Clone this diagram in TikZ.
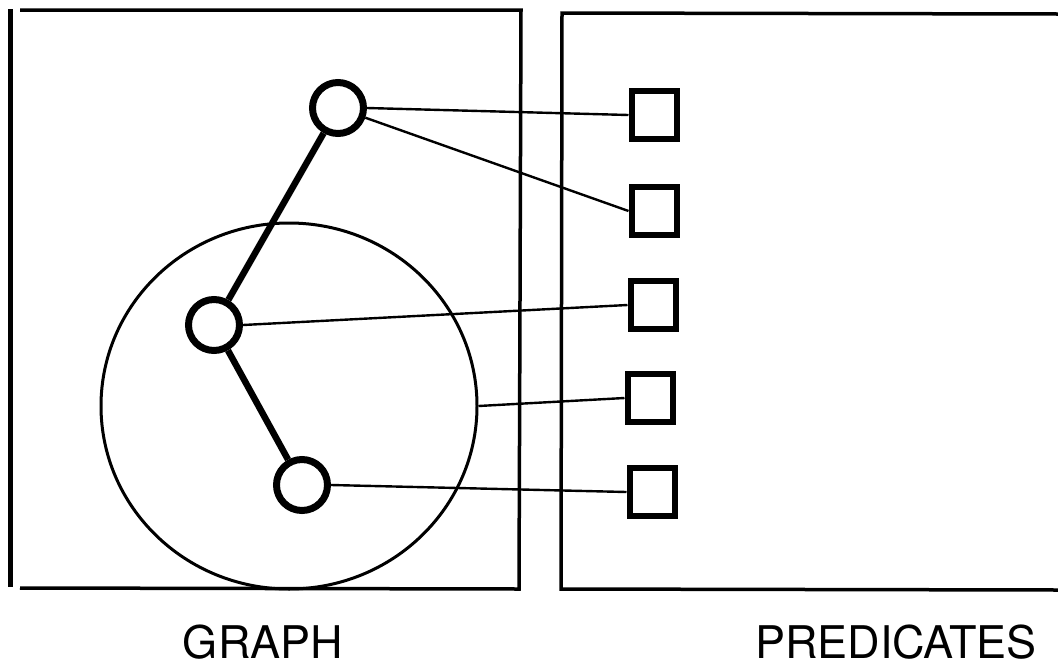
\documentclass[tikz,border=0pt]{standalone}
\usepackage{fontspec}
\setmainfont{TeX Gyre Heros}
\usetikzlibrary{shapes.geometric}
\begin{document}
\begin{tikzpicture}[x=1pt,y=-1pt,
  frame/.style={line width=3.5pt},
  vertex/.style={circle,draw,line width=7pt,minimum size=51pt,inner sep=0pt},
  pred/.style={rectangle,draw,line width=6pt,minimum width=45pt,minimum height=48pt,inner sep=0pt},
  edge/.style={line width=6.5pt},
  link/.style={line width=2.4pt},
  region/.style={ellipse,draw,line width=3pt,minimum width=376pt,minimum height=366pt,inner sep=0pt},
  lbl/.style={font=\fontsize{45}{50}\selectfont,inner sep=0pt}]
\useasboundingbox (0,0) rectangle (1058,670);
% frames
\draw[line width=5pt] (10,9) -- (10,587);
\draw[frame] (20,10) -- (521,10) -- (519,589) -- (20,588);
\draw[frame] (1058,14) -- (562,13) -- (561,589) -- (1058,590);
% region ellipse
\node[region] (R) at (289,406) {};
% vertices
\node[vertex] (a) at (338,108) {};
\node[vertex] (b) at (214,325) {};
\node[vertex] (c) at (302,485) {};
% predicates
\node[pred] (p1) at (654,115) {};
\node[pred] (p2) at (654,211) {};
\node[pred] (p3) at (653,305) {};
\node[pred] (p4) at (650,398) {};
\node[pred] (p5) at (652,492) {};
% graph edges
\draw[edge] (a) -- (b);
\draw[edge] (b) -- (c);
% links
\draw[link] (a.east) -- (p1.west);
\draw[link] (a) -- (p2.west);
\draw[link] (b.east) -- (p3.west);
\draw[link] (R.east) -- (p4.west);
\draw[link] (c.east) -- (p5.west);
% labels
\node[lbl] (g) at (263,642) {GRAPH};
\node[lbl] (p) at (896,642) {PREDICATES};
\end{tikzpicture}
\end{document}
